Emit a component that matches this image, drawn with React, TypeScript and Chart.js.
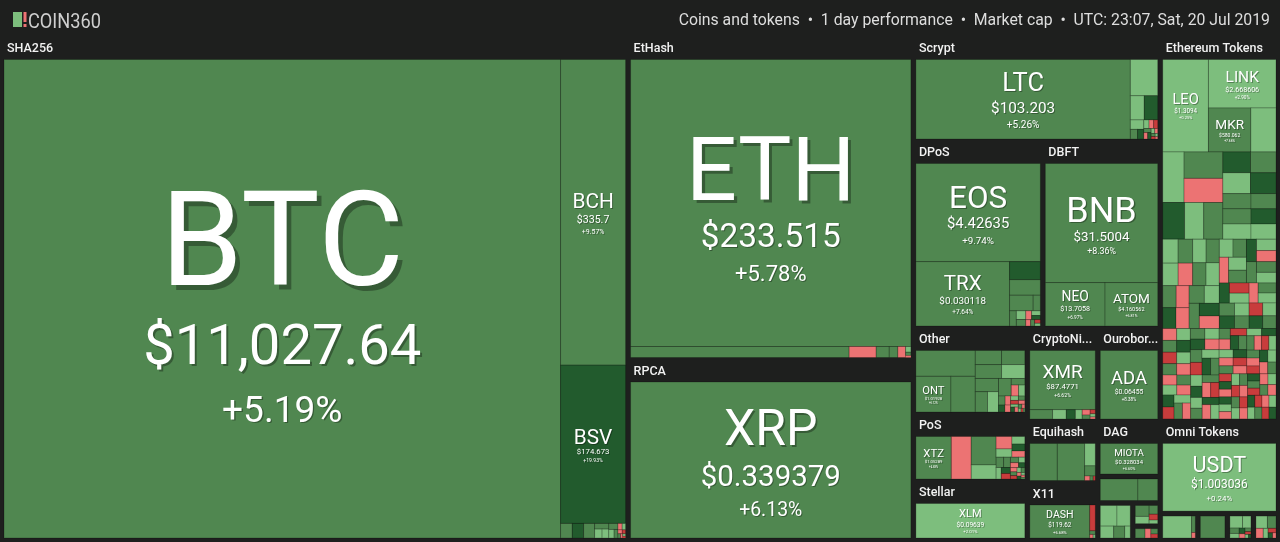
import React, { useEffect, useRef } from "react";
import { Chart, registerables } from "chart.js";

Chart.register(...registerables);

// [symbol, relative tile size, 1 day change %, price]
type Named = [string, number, number, string];
// [relative tile size, 1 day change %] for tiles too small to carry a label
type Minor = [number, number];

const sectionNames = ["Coins", "Tokens"];

const sha256Named: Named[] = [
  ["BTC", 265768, 5.19, "$11,027.64"],
  ["BCH", 19825, 9.57, "$335.7"],
  ["BSV", 10270, 19.93, "$174.673"],
];
const sha256Minor: Minor[] = [[170, 6.1], [165, 13.2], [160, 5.4], [80, 6.8], [66, 2.2], [60, 1.9], [55, 5.2], [45, 2.6], [33, 6.3], [27, -1.8], [22, 1.4], [17, -2.9], [13, -7.1], [11, 6.6], [9, -1.1], [7, 2.8], [5, -6.4]];

const ethashNamed: Named[] = [["ETH", 80360, 5.78, "$233.515"]];
const ethashMinor: Minor[] = [[2398, 4.6], [297, -3.1], [143, 5.9], [95, 4.2], [85, -2.7], [30, 1.8], [18, 6.5], [10, -1.5]];

const rpcaNamed: Named[] = [["XRP", 43400, 6.13, "$0.339379"]];

const scryptNamed: Named[] = [["LTC", 17040, 5.26, "$103.203"]];
const scryptMinor: Minor[] = [[994, 2.4], [336, 1.6], [326, 14.8], [127, 2.2], [70, 6.4], [60, 12.1], [45, 3.1], [40, -2.2], [35, -7.6], [30, 5.5], [25, -1.2], [22, 13.4], [18, 2.7], [15, -3.3], [12, 6.2], [10, -9.1], [8, 1.1], [6, -0.8]];

const dposNamed: Named[] = [
  ["EOS", 11931, 9.74, "$4.42635"],
  ["TRX", 5888, 7.64, "$0.030118"],
];
const dposMinor: Minor[] = [[542, 15.6], [465, 5.8], [360, 6.9], [110, 4.8], [100, 5.3], [80, 2.1], [60, 6.7], [50, -1.9], [40, 2.4], [35, 12.6], [30, -2.8], [25, 5.1], [20, -8.3], [15, 1.7]];

const dbftNamed: Named[] = [
  ["BNB", 13334, 8.36, "$31.5004"],
  ["NEO", 2580, 6.97, "$13.7058"],
  ["ATOM", 2279, 6.81, "$4.160562"],
];

const otherNamed: Named[] = [["ONT", 1260, 6.12, "$1.01928"]];
const otherMinor: Minor[] = [[1542, 7.2], [875, 5.9], [374, 6.3], [367, 4.9], [331, 7.7], [325, 2.1], [310, 5.2], [250, 6.6], [225, 1.5], [225, 4.4], [90, 6.2], [80, -2.1], [70, 2.3], [60, 5.8], [50, -1.4], [45, 13.9], [40, -2.6], [35, 1.9], [30, -7.8], [28, 6.1], [25, -1.7], [22, 2.5], [20, 14.3], [18, -2.2], [15, 5.6], [12, -1.1], [10, 2.8], [8, -8.4], [6, 6.3]];

const posNamed: Named[] = [["XTZ", 1506, 4.83, "$1.05289"]];
const posMinor: Minor[] = [[846, -2.6], [708, 5.7], [350, 2.2], [197, -1.9], [131, 2.8], [97, 1.6], [78, 6.1], [90, 14.2], [80, -2.3], [70, 6.4], [60, 2.1], [55, 13.1], [50, -8.1], [45, 5.9], [40, -1.6], [35, 2.7], [30, 14.8], [28, -2.4], [25, 6.2], [22, -7.7], [20, 1.9], [18, 5.4], [15, -2.1], [12, 13.6], [10, 2.2], [8, -1.3], [6, 6.6]];

const stellarNamed: Named[] = [["XLM", 3760, 2.01, "$0.09639"]];

const cryptonightNamed: Named[] = [["XMR", 3654, 6.62, "$87.4771"]];
const cryptonightMinor: Minor[] = [[200, 6.3], [120, 2.1], [80, 14.1], [60, 2.6], [40, -2.2], [30, 5.8], [20, -8.5], [15, 1.7], [10, -1.9]];

const ouroborosNamed: Named[] = [["ADA", 3939, 8.38, "$0.06455"]];

const equihashMinor: Minor[] = [[1062, 5.6], [1058, 6.3], [249, 2.4], [113, 5.1], [25, -2.2], [15, 6.8], [10, -7.5]];

const x11Named: Named[] = [["DASH", 2016, 6.68, "$119.62"]];
const x11Minor: Minor[] = [[145, -8.2], [20, 6.1], [12, -1.7], [8, 2.2]];

const dagNamed: Named[] = [["MIOTA", 1750, 6.6, "$0.328034"]];

const smallCoinsA: Minor[] = [[745, 6.2], [393, 5.7]];
const smallCoinsB: Minor[] = [[314, 2.3], [250, 1.8], [146, 2.6], [120, 6.1], [60, 2.2]];
const smallCoinsC: Minor[] = [[120, 5.9], [80, 2.4], [60, 6.3], [40, -8.1], [25, 2.2]];
const smallCoinsD: Minor[] = [[100, 6.4], [60, -2.1], [40, 5.2], [30, -8.3]];

const ethTokensNamed: Named[] = [
  ["LEO", 4004, 0.25, "$1.3094"],
  ["LINK", 3105, 2.9, "$2.668606"],
  ["MKR", 1768, 7.66, "$580.062"],
];
const ethTokensMinor: Minor[] = [
  [1049, 2.1],
  [1020, 1.8], [973, 6.2], [888, -2.4], [760, 13.5], [666, 2.6], [666, 5.1], [546, 15.2], [546, 1.5],
  [504, 7.3], [504, 12.8], [405, 6.4], [405, 8.1], [405, 3.2], [360, 5.6], [360, 16.1], [360, 1.2],
  [348, 2.2], [331, 6.1], [329, 2.4], [310, -2.1], [300, 1.7], [296, 6.3], [290, 5.8], [288, 2.6],
  [280, 6.6], [270, -1.8], [262, 14.2], [259, -2.5], [255, 6.2], [251, 2.1], [245, 5.7], [240, 13.8],
  [238, -1.6], [234, 2.3], [231, 6.4], [226, -2.2], [220, 1.9], [216, 5.9], [214, 14.6], [210, 2.7],
  [205, -2.8], [202, 6.1], [198, 5.5], [196, 2.2], [193, 13.3], [190, -7.9], [186, 2.5], [184, 6.7],
  [181, 14.9], [177, 1.6], [175, 5.8], [172, -1.9], [170, 6.2], [168, 2.4], [166, -8.6], [164, 13.7],
  [162, 2.8], [160, 6.3],
  [157, -2.2], [156, 6.1], [154, 2.3], [153, 14.1], [151, -8.2], [150, 5.7], [149, 2.6], [147, -1.8],
  [146, 6.4], [145, 13.6], [143, 2.1], [142, -2.5], [141, 5.9], [139, -7.7], [138, 2.4], [137, 14.4],
  [136, 6.2], [134, -1.6], [133, 1.9], [132, 6.6], [130, -2.7], [129, 13.2], [128, -8.8], [127, 2.2],
  [126, 5.6], [124, -2.1], [123, 2.7], [122, 14.7], [121, 6.3], [120, -1.4], [119, -9.2], [118, 2.5],
  [117, 6.1], [116, 13.9], [115, -2.3], [114, 1.8], [113, 5.8], [112, -2.6], [111, -7.4], [110, 14.2],
  [109, 6.5], [108, 2.3], [107, -1.7], [106, 5.9], [105, 13.5], [104, -8.3], [103, -2.2], [102, 2.6],
  [101, 6.2], [100, -2.4], [99, 14.6], [98, -7.9], [97, 2.1], [96, 6.4], [96, -1.9], [95, -8.7],
  [94, 13.4], [93, 2.4], [92, -2.8], [92, 5.6], [91, -7.6], [90, 14.8], [90, -2.1], [89, 2.2],
  [88, 6.3], [88, -8.1], [87, -1.5], [86, 13.7], [86, 2.5], [85, -2.6], [85, 5.9], [85, -8.9],
  [84, 2.3], [84, -2.2], [84, 14.3], [83, 6.1], [83, -7.8], [83, -1.8], [82, 2.7], [82, 6.6],
  [82, -2.4], [81, 13.9], [81, -8.4], [80, 2.1], [80, 6.2], [79, -2.3], [79, 2.4], [78, -8.2], [78, 14.1],
];

const omniNamed: Named[] = [["USDT", 7350, 0.24, "$1.003036"]];

const smallTokensA: Minor[] = [[620, 2.1], [60, 6.2], [20, -2.4]];
const smallTokensB: Minor[] = [[550, 5.8]];
const smallTokensC: Minor[] = [[180, 2.2], [120, 1.6], [60, 6.1], [50, 2.4], [40, 14.2], [30, -2.3], [25, 5.7], [20, -8.2], [15, 2.1], [10, 13.8]];
const smallTokensD: Minor[] = [[120, 2.3], [90, 5.9], [60, -2.2], [40, 2.6], [30, -8.4], [20, 14.1], [15, -2.7]];

const groupNames = [
  "SHA256", "EtHash", "RPCA", "Scrypt", "DPoS", "DBFT", "Other", "PoS", "Stellar",
  "CryptoNight", "Ouroboros", "Equihash", "X11", "DAG", "", "", "", "",
  "Ethereum Tokens", "Omni Tokens", "", "", "", "",
];
const groupSections = [0, 0, 0, 0, 0, 0, 0, 0, 0, 0, 0, 0, 0, 0, 0, 0, 0, 0, 1, 1, 1, 1, 1, 1];
const groupWeights = [
  315381, 92074, 51533, 25688, 24217, 21973, 9804, 7638, 6726,
  6557, 5813, 4336, 4054, 3438, 1656, 1313, 638, 394,
  45430, 10900, 1013, 797, 702, 675,
];
const groupNamed: Named[][] = [
  sha256Named, ethashNamed, rpcaNamed, scryptNamed, dposNamed, dbftNamed, otherNamed, posNamed, stellarNamed,
  cryptonightNamed, ouroborosNamed, [], x11Named, dagNamed, [], [], [], [],
  ethTokensNamed, omniNamed, [], [], [], [],
];
const groupMinor: Minor[][] = [
  sha256Minor, ethashMinor, [], scryptMinor, dposMinor, [], otherMinor, posMinor, [],
  cryptonightMinor, [], equihashMinor, x11Minor, [], smallCoinsA, smallCoinsB, smallCoinsC, smallCoinsD,
  ethTokensMinor, [], smallTokensA, smallTokensB, smallTokensC, smallTokensD,
];

const headerBrand = "COIN360";
const headerInfo = "Coins and tokens  \u2022  1 day performance  \u2022  Market cap  \u2022  UTC: 23:07, Sat, 20 Jul 2019";

// ---- styling ----
const BG = "#1e1f1e";
const FONT = "Roboto, 'Noto Sans', sans-serif";

function colorFor(change: number): string {
  if (change <= -5) return "#c83c3c";
  if (change < 0) return "#ec7373";
  if (change < 4) return "#7dbe7d";
  if (change < 11) return "#508750";
  return "#225b2d";
}

// ---- layout (binary treemap, as d3.treemapBinary) ----
type Node = { value: number };
function binaryLayout<T extends Node>(
  nodes: T[], x0: number, y0: number, x1: number, y1: number,
  place: (n: T, x0: number, y0: number, x1: number, y1: number) => void
) {
  const n = nodes.length;
  if (!n) return;
  const sums: number[] = [0];
  for (let i = 0; i < n; i++) sums.push(sums[i] + nodes[i].value);
  const partition = (i: number, j: number, value: number, a0: number, b0: number, a1: number, b1: number) => {
    if (i >= j - 1) { place(nodes[i], a0, b0, a1, b1); return; }
    const offset = sums[i];
    const target = value / 2 + offset;
    let k = i + 1, hi = j - 1;
    while (k < hi) {
      const mid = (k + hi) >>> 1;
      if (sums[mid] < target) k = mid + 1; else hi = mid;
    }
    if (target - sums[k - 1] < sums[k] - target && i + 1 < k) --k;
    const left = sums[k] - offset, right = value - left;
    if (a1 - a0 > b1 - b0) {
      const xk = value ? (a0 * right + a1 * left) / value : a1;
      partition(i, k, left, a0, b0, xk, b1);
      partition(k, j, right, xk, b0, a1, b1);
    } else {
      const yk = value ? (b0 * right + b1 * left) / value : b1;
      partition(i, k, left, a0, b0, a1, yk);
      partition(k, j, right, a0, yk, a1, b1);
    }
  };
  partition(0, n, sums[n], x0, y0, x1, y1);
}

type TileRect = { x0: number; y0: number; x1: number; y1: number; symbol: string; change: number; price: string };
type GroupRect = { x0: number; y0: number; x1: number; y1: number; name: string; labeled: boolean };

function computeLayout() {
  const tiles: TileRect[] = [];
  const groups: GroupRect[] = [];
  const sections = sectionNames.map((name, s) => {
    const idx = groupNames.map((_, i) => i).filter((i) => groupSections[i] === s)
      .sort((a, b) => groupWeights[b] - groupWeights[a]);
    return { name, idx, value: idx.reduce((acc, i) => acc + groupWeights[i], 0) };
  });
  binaryLayout(sections, 1.5, 37.5, 1278.5, 540.5, (sec, sx0, sy0, sx1, sy1) => {
    const gnodes = sec.idx.map((i) => ({ i, value: groupWeights[i] }));
    binaryLayout(gnodes, sx0, sy0, sx1, sy1, (g, gx0, gy0, gx1, gy1) => {
      const name = groupNames[g.i];
      const labeled = name !== "" && gy1 - gy0 >= 45;
      groups.push({ x0: gx0, y0: gy0, x1: gx1, y1: gy1, name, labeled });
      const pad = 2.5;
      const items = [
        ...groupNamed[g.i].map((t) => ({ value: t[1], symbol: t[0], change: t[2], price: t[3] })),
        ...groupMinor[g.i].map((m) => ({ value: m[0], symbol: "", change: m[1], price: "" })),
      ].sort((a, b) => b.value - a.value);
      binaryLayout(items, gx0 + pad, gy0 + (labeled ? 22 : pad), gx1 - pad, gy1 - pad, (it, tx0, ty0, tx1, ty1) => {
        tiles.push({ x0: tx0, y0: ty0, x1: tx1, y1: ty1, symbol: it.symbol, change: it.change, price: it.price });
      });
    });
  });
  return { tiles, groups };
}

function fitLabel(ctx: CanvasRenderingContext2D, name: string, maxW: number) {
  if (ctx.measureText(name).width <= maxW) return name;
  let s = name;
  while (s.length > 1 && ctx.measureText(s + "...").width > maxW) s = s.slice(0, -1);
  return s + "...";
}

function drawTileText(ctx: CanvasRenderingContext2D, t: TileRect, x0: number, y0: number, x1: number, y1: number) {
  const w = x1 - x0, h = y1 - y0;
  if (!t.symbol || !t.price || w < 30 || h < 30) return;
  let fs = Math.min(0.32 * Math.min(w, h), 132);
  ctx.font = `400 ${fs}px ${FONT}`;
  const sw = ctx.measureText(t.symbol).width;
  if (sw > 0.7 * w) fs *= (0.7 * w) / sw;
  let fp = 0.6 * fs;
  ctx.font = `400 ${fp}px ${FONT}`;
  const pw = ctx.measureText(t.price).width;
  if (pw > 0.5 * w) fp *= (0.5 * w) / pw;
  let fc = 0.66 * fp;
  const chText = (t.change >= 0 ? "+" : "") + t.change.toFixed(2) + "%";
  let block = 0.71 * fs + 1.4 * fp + 1.55 * fc;
  if (block > 0.85 * h) {
    const k = (0.85 * h) / block;
    fs *= k; fp *= k; fc *= k; block *= k;
  }
  const cx = (x0 + x1) / 2;
  let y = (y0 + y1) / 2 - block / 2 + 0.71 * fs + 0.06 * fs;
  ctx.save();
  ctx.beginPath();
  ctx.rect(x0, y0, w, h);
  ctx.clip();
  ctx.textAlign = "center";
  ctx.textBaseline = "alphabetic";
  ctx.fillStyle = "#ffffff";
  ctx.shadowColor = "rgba(0,0,0,0.32)";
  ctx.shadowBlur = 0;
  const lines: [string, number, number][] = [[t.symbol, fs, 0], [t.price, fp, 1.4 * fp], [chText, fc, 1.55 * fc]];
  for (const [text, size, dy] of lines) {
    y += dy;
    const so = Math.max(1, size * 0.035);
    ctx.shadowOffsetX = so;
    ctx.shadowOffsetY = so;
    ctx.font = `400 ${size}px ${FONT}`;
    ctx.fillText(text, cx, y);
  }
  ctx.restore();
}

function makeTreemapPlugin(tiles: TileRect[], groups: GroupRect[]) {
  return {
    id: "coinTreemap",
    beforeDraw(chart: Chart) {
      const ctx = chart.ctx;
      ctx.save();
      ctx.fillStyle = BG;
      ctx.fillRect(0, 0, chart.width, chart.height);
      // header
      ctx.fillStyle = "#7dbe7d";
      ctx.fillRect(13, 12, 9, 15);
      ctx.fillStyle = "#ec7373";
      ctx.fillRect(23.5, 12, 3, 10);
      ctx.fillRect(23.5, 24, 3, 3);
      ctx.fillStyle = "#cfcfcf";
      ctx.font = `400 21px ${FONT}`;
      ctx.textAlign = "left";
      ctx.textBaseline = "alphabetic";
      ctx.fillText(headerBrand, 28, 27.5, 73);
      ctx.fillStyle = "#dedede";
      ctx.font = `400 15.8px ${FONT}`;
      ctx.textAlign = "right";
      ctx.fillText(headerInfo, 1270, 25);
      ctx.restore();
    },
    afterDatasetsDraw(chart: Chart) {
      const ctx = chart.ctx;
      const xs = chart.scales.x, ys = chart.scales.y;
      const X = (v: number) => xs.getPixelForValue(v);
      const Y = (v: number) => ys.getPixelForValue(v);
      ctx.save();
      // group labels
      ctx.font = `500 12.5px ${FONT}`;
      ctx.fillStyle = "#f2f2f2";
      ctx.textAlign = "left";
      ctx.textBaseline = "middle";
      for (const g of groups) {
        if (!g.labeled) continue;
        const gx0 = X(g.x0), gx1 = X(g.x1), gy0 = Y(g.y0);
        ctx.fillText(fitLabel(ctx, g.name, gx1 - gx0 - 7), gx0 + 5.5, gy0 + 11.5);
      }
      // tiles
      for (const t of tiles) {
        const x0 = X(t.x0), x1 = X(t.x1), y0 = Y(t.y0), y1 = Y(t.y1);
        ctx.fillStyle = colorFor(t.change);
        ctx.fillRect(x0, y0, x1 - x0, y1 - y0);
        if (x1 - x0 > 2 && y1 - y0 > 2) {
          ctx.strokeStyle = "rgba(0,0,0,0.22)";
          ctx.lineWidth = 1;
          ctx.strokeRect(x0, y0, x1 - x0, y1 - y0);
        }
      }
      for (const t of tiles) {
        drawTileText(ctx, t, X(t.x0), Y(t.y0), X(t.x1), Y(t.y1));
      }
      ctx.restore();
    },
  };
}

export default function App() {
  const ref = useRef<HTMLCanvasElement>(null);
  useEffect(() => {
    document.body.style.margin = "0";
    document.body.style.background = BG;
    const canvas = ref.current;
    if (!canvas) return;
    const { tiles, groups } = computeLayout();
    const chart = new Chart(canvas, {
      type: "scatter",
      data: {
        datasets: [
          {
            label: "Market cap tiles",
            data: tiles.map((t) => ({ x: (t.x0 + t.x1) / 2, y: (t.y0 + t.y1) / 2 })),
            pointRadius: 0,
            pointHoverRadius: 0,
          },
        ],
      },
      options: {
        animation: false,
        responsive: false,
        maintainAspectRatio: false,
        events: [],
        layout: { padding: 0 },
        scales: {
          x: { type: "linear", min: 0, max: 1280, display: false },
          y: { type: "linear", min: 0, max: 542, reverse: true, display: false },
        },
        plugins: { legend: { display: false }, tooltip: { enabled: false } },
      },
      plugins: [makeTreemapPlugin(tiles, groups) as any],
    });
    return () => chart.destroy();
  }, []);
  return (
    <div style={{ width: 1280, height: 542, background: BG, overflow: "hidden" }}>
      <canvas ref={ref} width={1280} height={542} style={{ display: "block", width: 1280, height: 542 }} />
    </div>
  );
}
